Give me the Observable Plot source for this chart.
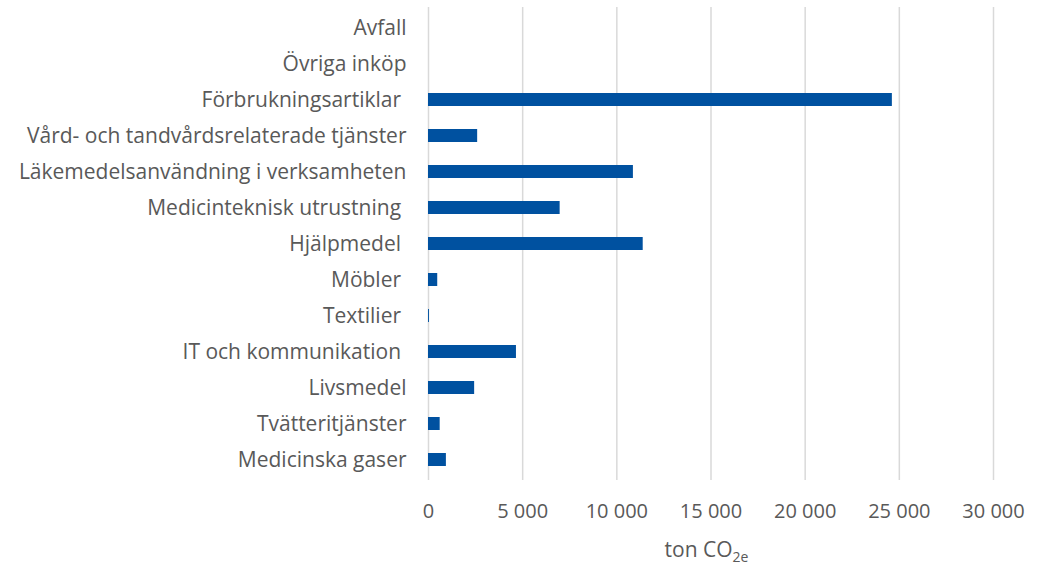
<!DOCTYPE html>
<html>
<head>
<meta charset="utf-8">
<script src="https://cdn.jsdelivr.net/npm/d3@7"></script>
<script src="https://cdn.jsdelivr.net/npm/@observablehq/plot@0.6"></script>
<style>
  html, body { margin: 0; padding: 0; background: #fff; }
  svg text { white-space: pre; }
</style>
</head>
<body>
<div id="chart"></div>
<script>
const categories = [
  "Avfall",
  "Övriga inköp",
  "Förbrukningsartiklar ",
  "Vård- och tandvårdsrelaterade tjänster",
  "Läkemedelsanvändning i verksamheten",
  "Medicinteknisk utrustning ",
  "Hjälpmedel ",
  "Möbler ",
  "Textilier ",
  "IT och kommunikation ",
  "Livsmedel",
  "Tvätteritjänster",
  "Medicinska gaser"
];
const values = [0, 0, 24630, 2610, 10880, 6990, 11400, 490, 50, 4670, 2450, 620, 950];
const xTicks = [0, 5000, 10000, 15000, 20000, 25000, 30000];
const xTickLabels = ["0", "5 000", "10 000", "15 000", "20 000", "25 000", "30 000"];
const axisTitle = ["ton CO", "2e"];

const data = categories.map((c, i) => ({category: c, value: values[i]}));
const font = "'Open Sans', Lato, sans-serif";

const plot = Plot.plot({
  width: 1054,
  height: 566,
  marginLeft: 428,
  marginRight: 61,
  marginTop: 7,
  marginBottom: 86,
  style: {fontFamily: font, fontSize: "20px", color: "#595959", background: "#fff"},
  x: {domain: [0, 30000], label: null},
  y: {domain: categories, label: null, paddingInner: 0.64, paddingOuter: 0.32, align: 0.5},
  marks: [
    Plot.gridX(xTicks, {stroke: "#d9d9d9", strokeOpacity: 1, strokeWidth: 1.5}),
    Plot.barX(data, {x: "value", y: "category", fill: "#0051a0"}),
    Plot.axisY({tickSize: 0, tickPadding: 22, fontSize: 21, fill: "#595959", label: null}),
    Plot.axisX({ticks: xTicks, tickFormat: (d) => xTickLabels[xTicks.indexOf(d)], tickSize: 0, tickPadding: 23, fontSize: 20, fill: "#595959", label: null})
  ]
});

const svg = d3.select(plot);
const xs = plot.scale("x");
const t = svg.append("text")
  .attr("x", xs.apply(15000))
  .attr("y", 557)
  .attr("text-anchor", "middle")
  .attr("fill", "#595959")
  .attr("font-family", font)
  .attr("font-size", 21)
  .attr("dx", -4);
t.append("tspan").text(axisTitle[0]);
t.append("tspan").attr("font-size", 14).attr("dy", 5).text(axisTitle[1]);

document.getElementById("chart").appendChild(plot);
</script>
</body>
</html>
